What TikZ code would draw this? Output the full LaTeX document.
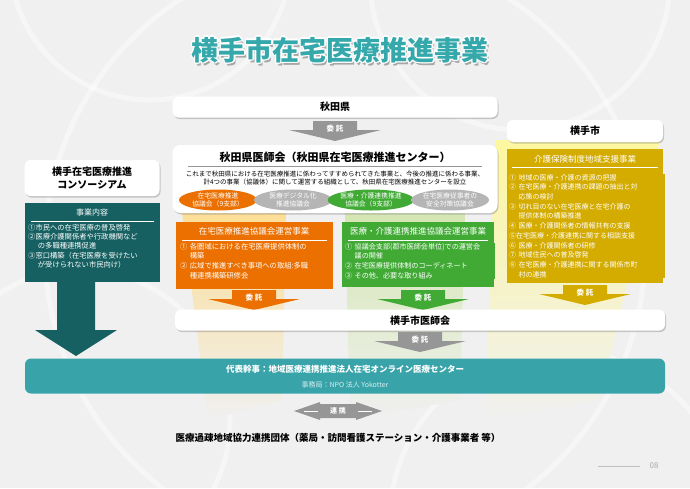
\documentclass[tikz,border=0pt]{standalone}
\usepackage{fontspec}
\setmainfont{Noto Sans CJK JP}
\usetikzlibrary{
  calc,
  positioning,
  shadows,
  shapes.geometric
}
\definecolor{bg}{RGB}{240,240,240}
\definecolor{teal title}{RGB}{52,168,170}
\definecolor{deep teal}{RGB}{22,96,98}
\definecolor{band}{RGB}{56,164,170}
\definecolor{kyo orange}{RGB}{236,112,0}
\definecolor{kyo green}{RGB}{64,170,53}
\definecolor{kyo yellow}{RGB}{212,172,0}
\definecolor{ash}{RGB}{150,150,150}
\definecolor{pale orange}{RGB}{252,222,150}
\definecolor{pale green}{RGB}{212,230,178}
\definecolor{pale yellow}{RGB}{253,247,160}
\tikzset{
%
  % For white header boxes.
  header/.style={
    draw=none,
    fill=white,
    rounded corners=6pt,
    drop shadow={shadow xshift=1pt,shadow yshift=-1.5pt,opacity=0.4},
    font=\bfseries\fontsize{10}{11}\selectfont},
%
  % For coloured task boxes.
  task/.style={
    fill=#1,
    text=white,
    align=left,
    anchor=north west,
    inner sep=0pt},
%
  % For the small ovals.
  oval/.style={
    ellipse,
    fill=#1,
    text=white,
    minimum width=78pt,
    minimum height=21pt,
    inner sep=0pt,
    align=center,
    font=\fontsize{6.8}{7.4}\selectfont},
%
  % For the title letters.
  title/.style={
    font=\bfseries\fontsize{27}{27}\selectfont},
%
  % For the commission arrows.
  pics/entrust/.style={
    code={
      \fill[#1] (-22,0) rectangle (22,9)
        (-46,9) -- (46,9) -- (0,20) -- cycle;
      \node[text=white,font=\bfseries\fontsize{7.5}{7.5}\selectfont] at (0,8) {委\ 託};
    }}
}

\begin{document}
\begin{tikzpicture}[x=1pt,y=-1pt]
  \useasboundingbox (0,0) rectangle (690,488);
  \fill[bg] (0,0) rectangle (690,488);
  % faint rings
  \begin{scope}[white,line width=5pt,opacity=0.45]
    \draw (150,-40) circle (140);
    \draw (520,-20) circle (150);
    \draw (80,420) circle (150);
    \draw (560,520) circle (170);
    \draw (345,250) circle (300);
  \end{scope}

  % pale columns
  \shade[top color=pale orange,bottom color=bg] (182,212) -- (286,212) -- (282,400) -- (208,420) -- cycle;
  \shade[top color=pale green,bottom color=bg] (345,212) -- (465,212) -- (460,400) -- (350,420) -- cycle;
  \shade[top color=pale yellow,bottom color=bg] (495,140) -- (660,140) -- (600,400) -- (485,420) -- cycle;

  % title
  \node[title,text=black!35] at (342,53) {横手市在宅医療推進事業};
  \foreach \dx/\dy in {-1.5/0,1.5/0,0/-1.5,0/1.5,-1/-1,1/1,-1/1,1/-1}
    \node[title,text=white] at (340+\dx,50+\dy) {横手市在宅医療推進事業};
  \node[title,text=teal title] (T) at (340,50) {横手市在宅医療推進事業};

  % Akita prefecture
  \node[header,minimum width=325pt,minimum height=21pt] (P) at (335,107) {秋田県};
  \pic at (335,121) {entrust=ash};

  % medical association
  \node[header,rounded corners=8pt,minimum width=325pt,minimum height=68pt] (M) at (335,179) {};
  \node[font=\bfseries\fontsize{11}{12}\selectfont] (MT) at (335,157) {秋田県医師会（秋田県在宅医療推進センター）};
  \draw[ash,line width=1pt] (188,166) -- (482,166);
  \node[align=center,font=\fontsize{6.5}{8.6}\selectfont] (MB) at (335,178)
    {これまで秋田県における在宅医療推進に係わってすすめられてきた事業と、今後の推進に係わる事業、\\計4つの事業（協議体）に関して運営する組織として、秋田県在宅医療推進センターを設立};
  \node[oval=kyo orange] (O1) at (218,200) {在宅医療推進\\協議会（9支部）};
  \node[oval=ash!70] (O2) at (293,200) {医療デジタル化\\推進協議会};
  \node[oval=kyo green] (O3) at (371,200) {医療・介護連携推進\\協議会（9支部）};
  \node[oval=ash!70] (O4) at (450,200) {在宅医療従事者の\\安全対策協議会};

  % orange task
  \fill[kyo orange] (176,222) rectangle (333,289);
  \node[text=white,font=\fontsize{8.5}{9}\selectfont] (A) at (254,231) {在宅医療推進協議会運営事業};
  \draw[white,line width=0.6pt] (182,240) -- (327,240);
  \node[task=kyo orange,text width=152pt,font=\fontsize{7.3}{9.6}\selectfont] (AB) at (180,243)
    {① 各圏域における在宅医療提供体制の\\\ \ \ \ 構築\\② 広域で推進すべき事項への取組:多職\\\ \ \ \ 種連携構築研修会};
  \pic at (254,290) {entrust=kyo orange};

  % green task
  \fill[kyo green] (342,222) rectangle (494,287);
  \node[text=white,font=\fontsize{8.5}{9}\selectfont] (B) at (418,231) {医療・介護連携推進協議会運営事業};
  \draw[white,line width=0.6pt] (348,240) -- (488,240);
  \node[task=kyo green,text width=150pt,font=\fontsize{7.1}{9.6}\selectfont] (BB) at (345,243)
    {① 協議会支部(郡市医師会単位)での運営会\\\ \ \ \ 議の開催\\② 在宅医療提供体制のコーディネート\\③ その他、必要な取り組み};
  \pic at (423,290) {entrust=kyo green};

  % Yokote city
  \node[header,minimum width=156pt,minimum height=22pt] (C) at (585,131) {横手市};
  \fill[kyo yellow] (507,149) rectangle (663,283);
  \node[text=white,font=\fontsize{8.5}{9}\selectfont] (CT) at (585,159) {介護保険制度地域支援事業};
  \draw[white,line width=0.6pt] (512,167) -- (658,167);
  \node[task=kyo yellow,text width=156pt,font=\fontsize{7}{9.7}\selectfont] (CB) at (509,174)
    {① 地域の医療・介護の資源の把握\\② 在宅医療・介護連携の課題の抽出と対\\\ \ \ \ 応策の検討\\③ 切れ目のない在宅医療と在宅介護の\\\ \ \ \ 提供体制の構築推進\\④ 医療・介護関係者の情報共有の支援\\⑤在宅医療・介護連携に関する相談支援\\⑥ 医療・介護関係者の研修\\⑦ 地域住民への普及啓発\\⑧ 在宅医療・介護連携に関する関係市町\\\ \ \ \ 村の連携};
  \pic at (585,285) {entrust=kyo yellow};

  % Yokote medical association
  \node[header,minimum width=490pt,minimum height=21pt] (Y) at (420,320) {};
  \node[font=\bfseries\fontsize{10}{11}\selectfont] (YT) at (420,321) {横手市医師会};
  \pic at (420,332) {entrust=ash};

  % consortium
  \node[header,minimum width=135pt,minimum height=36pt,align=center,
        font=\bfseries\fontsize{10}{13}\selectfont] (K) at (92,178) {横手在宅医療推進\\コンソーシアム};
  \fill[deep teal] (25,203) rectangle (160,282);
  \node[text=white,font=\fontsize{8}{9}\selectfont] (KT) at (92,212) {事業内容};
  \draw[white,line width=0.6pt] (31,221) -- (154,221);
  \node[task=deep teal,text width=132pt,font=\fontsize{7.3}{9.3}\selectfont] (KB) at (28,224)
    {①市民への在宅医療の普及啓発\\②医療介護関係者や行政機関など\\\ \ \ \ の多職種連携促進\\③窓口構築（在宅医療を受けたい\\\ \ \ \ が受けられない市民向け）};
  \fill[deep teal] (57,282) rectangle (95,330) (35,330) -- (117,330) -- (76,356) -- cycle;

  % representative band
  \node[fill=band,rounded corners=6pt,minimum width=640pt,minimum height=35pt] (R) at (345,376) {};
  \node[text=white,font=\bfseries\fontsize{8.5}{9}\selectfont] (RT) at (345,369) {代表幹事：地域医療連携推進法人在宅オンライン医療センター};
  \node[text=white!80!band,font=\fontsize{7}{8}\selectfont] (RB) at (345,385) {事務局：NPO 法人 Yokotter};

  % cooperation
  \fill[ash] (320,404) -- (356,404) -- (356,402) -- (382,411) -- (356,420) -- (356,418) -- (320,418) -- (320,420) -- (294,411) -- (320,402) -- cycle;
  \draw[white,line width=1pt] (304,411) -- (318,411) (358,411) -- (372,411);
  \node[text=white,font=\bfseries\fontsize{7}{7}\selectfont] (L) at (338,411) {連\ 携};
  \node[font=\bfseries\fontsize{9.5}{10}\selectfont] (G) at (338,438) {医療過疎地域協力連携団体（薬局・訪問看護ステーション・介護事業者 等）};

  % page number
  \draw[ash!60,line width=0.6pt] (598,466) -- (640,466);
  \node[text=ash!80,font=\fontsize{8}{8}\selectfont] (N) at (654,466) {08};
\end{tikzpicture}
\end{document}
